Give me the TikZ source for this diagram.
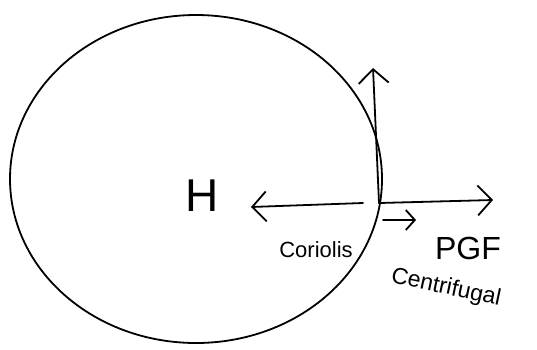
\documentclass[tikz,border=0pt]{standalone}
\usepackage{fontspec}
\setmainfont{Liberation Sans}
\usetikzlibrary{arrows.meta}
\begin{document}
\begin{tikzpicture}[x=1pt,y=-1pt,
  pen/.style={line width=1.8pt, line cap=round, line join=round},
  vec/.style={pen, -{Straight Barb[length=14pt,width=30pt,line width=1.8pt]}},
  lbl/.style={inner sep=0pt, anchor=center}]
\useasboundingbox (0,0) rectangle (537,349);
% circle
\draw[pen] (196,179) ellipse [x radius=186pt, y radius=164pt];
% force origin on the circle
\coordinate (o) at (379,203);
\coordinate (up) at (373,68);
\coordinate (pgf) at (493,200);
\coordinate (cor) at (251,207);
\coordinate (cs) at (383,220);
\coordinate (ce) at (416,220);
\draw[vec] (o) -- (up);
\draw[vec] (o) -- (pgf);
\draw[vec] ([xshift=-16pt]o) -- (cor);
\draw[pen, -{Straight Barb[length=9pt,width=20pt,line width=1.8pt]}] (cs) -- (ce);
% labels
\node[lbl, font=\fontsize{46}{46}\selectfont] (H) at (202,196) {H};
\node[lbl, font=\fontsize{22}{22}\selectfont] (corl) at (316,250) {Coriolis};
\node[lbl, font=\fontsize{32}{32}\selectfont] (pgfl) at (468,248) {PGF};
\node[lbl, font=\fontsize{23}{23}\selectfont, rotate=-12] (cent) at (446,288) {Centrifugal};
\end{tikzpicture}
\end{document}
